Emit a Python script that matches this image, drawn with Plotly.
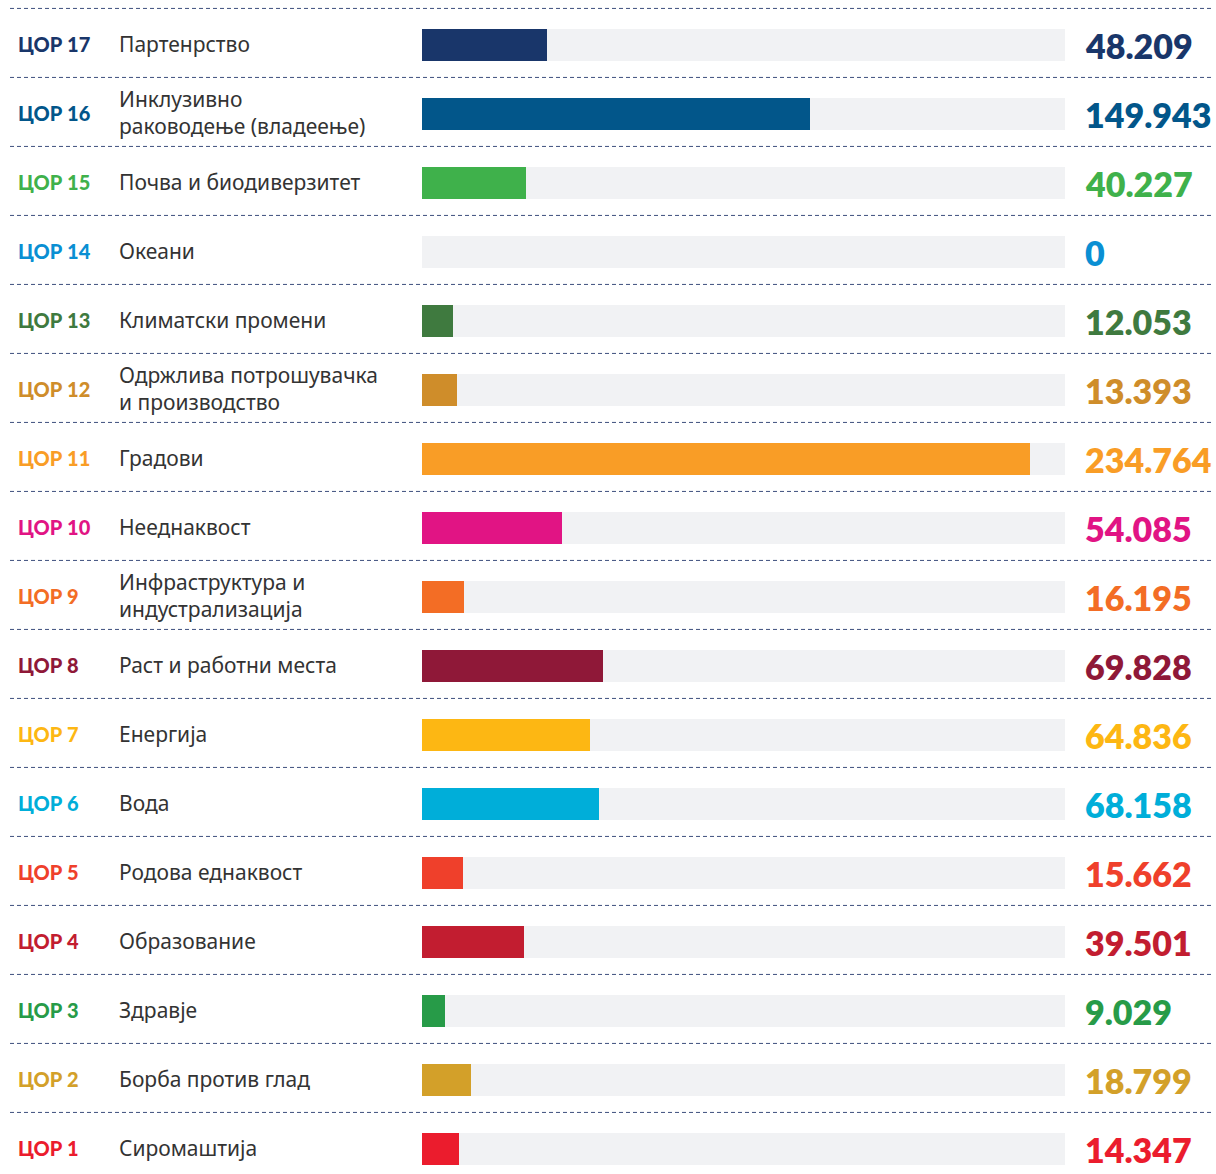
import plotly.graph_objects as go

codes = ["ЦОР 17", "ЦОР 16", "ЦОР 15", "ЦОР 14", "ЦОР 13", "ЦОР 12", "ЦОР 11", "ЦОР 10",
         "ЦОР 9", "ЦОР 8", "ЦОР 7", "ЦОР 6", "ЦОР 5", "ЦОР 4", "ЦОР 3", "ЦОР 2", "ЦОР 1"]
names = ["Партенрство", "Инклузивно<br>раководење (владеење)", "Почва и биодиверзитет",
         "Океани", "Климатски промени", "Одржлива потрошувачка<br>и производство", "Градови",
         "Нееднаквост", "Инфраструктура и<br>индустрализација", "Раст и работни места",
         "Енергија", "Вода", "Родова еднаквост", "Образование", "Здравје",
         "Борба против глад", "Сиромаштија"]
values = [48.209, 149.943, 40.227, 0, 12.053, 13.393, 234.764, 54.085, 16.195, 69.828,
          64.836, 68.158, 15.662, 39.501, 9.029, 18.799, 14.347]
value_labels = ["48.209", "149.943", "40.227", "0", "12.053", "13.393", "234.764", "54.085",
                "16.195", "69.828", "64.836", "68.158", "15.662", "39.501", "9.029",
                "18.799", "14.347"]
colors = ["#19366a", "#02568a", "#3fb14b", "#0a8fd3", "#3f7a3f", "#cf8d2a", "#f99d26",
          "#e11484", "#f36d25", "#8f1838", "#fdb713", "#00aed9", "#ef402b", "#c21d30",
          "#279b48", "#d3a029", "#eb1c2d"]
axis_max = 248.3

W, H = 1216, 1174
idx = list(range(len(codes)))

fig = go.Figure()
fig.add_trace(go.Bar(x=[axis_max] * len(idx), y=idx, orientation="h", width=0.45,
                     marker=dict(color="#f1f2f4", line=dict(width=0)), hoverinfo="skip"))
fig.add_trace(go.Bar(x=values, y=idx, orientation="h", width=0.45,
                     marker=dict(color=colors, line=dict(width=0)), hoverinfo="skip"))

annotations = []
shapes = []
for i in idx:
    annotations.append(dict(xref="paper", yref="y", x=16 / W, y=i - 0.02, xanchor="left",
                            yanchor="middle", text=codes[i], showarrow=False,
                            font=dict(family="Lato", size=20, weight=900, color=colors[i])))
    annotations.append(dict(xref="paper", yref="y", x=117 / W, y=i - 0.02, xanchor="left",
                            yanchor="middle", text=names[i], showarrow=False, align="left",
                            font=dict(family="Noto Sans", size=21, color="#333333")))
    annotations.append(dict(xref="paper", yref="y", x=1083 / W, y=i, xanchor="left",
                            yanchor="middle", text=value_labels[i],
                            showarrow=False,
                            font=dict(family="Lato", size=34, weight=800, color=colors[i])))
    shapes.append(dict(type="line", xref="paper", yref="y", x0=10 / W, x1=1214 / W,
                       y0=i - 0.53, y1=i - 0.53,
                       line=dict(color="#3e4f7e", width=1, dash="4px,3px")))

fig.update_layout(
    width=W, height=H, margin=dict(l=0, r=0, t=0, b=0),
    paper_bgcolor="white", plot_bgcolor="white",
    barmode="overlay", showlegend=False, bargap=0,
    xaxis=dict(domain=[422 / W, 1065 / W], range=[0, axis_max], visible=False, fixedrange=True),
    yaxis=dict(range=[(H - 45) / 69, -45 / 69], visible=False, fixedrange=True),
    annotations=annotations, shapes=shapes,
)

fig.write_html("out.html")
